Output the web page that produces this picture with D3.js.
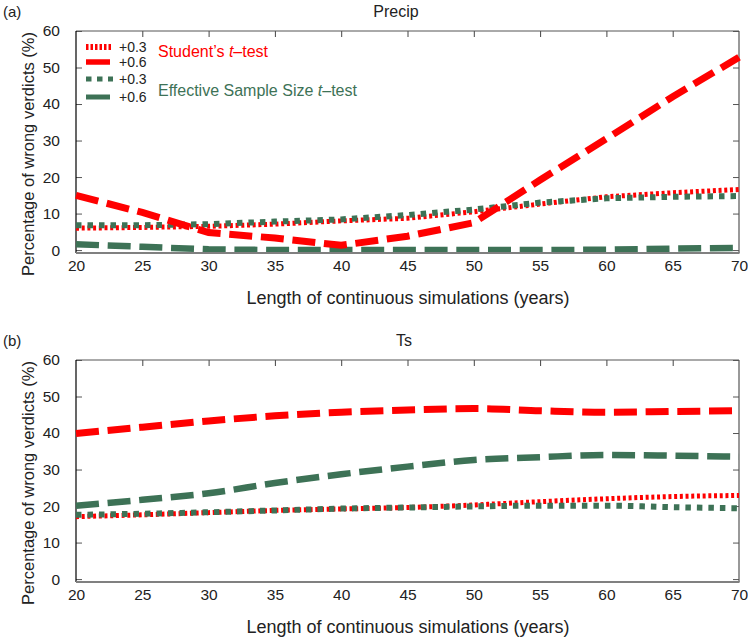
<!DOCTYPE html>
<html>
<head>
<meta charset="utf-8">
<script src="https://cdn.jsdelivr.net/npm/d3@7"></script>
<style>
body { margin: 0; background: #fff; }
text { font-family: "Liberation Sans", Arial, Helvetica, sans-serif; fill: #222; }
</style>
</head>
<body>
<svg width="748" height="637"></svg>
<script>
// years on the x axis
var years = [20, 25, 30, 35, 40, 45, 50, 55, 60, 65, 70];
var xTicks = [20, 25, 30, 35, 40, 45, 50, 55, 60, 65, 70];
var yTicks = [0, 10, 20, 30, 40, 50, 60];

// panel (a) Precip
var precipStudent03 = [6, 6.2, 6.5, 7.1, 8, 8.7, 10.5, 12.6, 14.6, 15.7, 16.6];
var precipStudent06 = [15, 10.3, 4.8, 3.3, 1.3, 3.8, 7.5, 19.2, 30.5, 42, 52.8];
var precipEss03 = [6.8, 6.8, 7.1, 7.8, 8.4, 9.6, 11.1, 13, 14.2, 14.6, 14.8];
var precipEss06 = [1.6, 0.9, 0.2, 0, 0, 0, 0, 0, 0.1, 0.4, 0.6];

// panel (b) Ts
var tsStudent03 = [17.1, 17.6, 18.2, 18.8, 19.2, 19.6, 20.3, 21.2, 22, 22.6, 22.9];
var tsStudent06 = [39.9, 41.6, 43.3, 44.7, 45.7, 46.3, 46.7, 46.1, 45.7, 45.9, 46.1];
var tsEss03 = [17.6, 17.9, 18.3, 18.8, 19.3, 19.6, 19.9, 20.1, 20.1, 19.7, 19.4];
var tsEss06 = [20.1, 21.7, 23.5, 26.3, 28.7, 30.8, 32.6, 33.4, 34, 33.8, 33.5];

var red = '#ff0000';
var green = '#3d7256';

var styles = {
    s03: {color: red, width: 5, dash: '3,2.7'},
    s06: {color: red, width: 7, dash: '23,8.7'},
    e03: {color: green, width: 6, dash: '5.5,6'},
    e06: {color: green, width: 6.5, dash: '23,8.7'}
};

var svg = d3.select('svg');
var left = 76, right = 739;

var xScale = d3.scaleLinear().domain([20, 70]).range([left, right]);

function drawPanel(cfg) {
    var yScale = d3.scaleLinear().domain([-0.8, 60]).range([cfg.bottom, cfg.top]);
    var g = svg.append('g');

    // tick marks, pointing inward
    var yAxisL = d3.axisLeft(yScale).tickValues(yTicks).tickSizeInner(-6).tickSizeOuter(0).tickPadding(16);
    g.append('g').attr('transform', 'translate(' + left + ',0)').call(yAxisL)
        .call(a => a.select('.domain').remove())
        .call(a => a.selectAll('line').attr('stroke', '#555'))
        .call(a => a.selectAll('text').style('font-size', '15.5px').attr('fill', '#222'));

    var yAxisR = d3.axisRight(yScale).tickValues(yTicks).tickSizeInner(-6).tickSizeOuter(0).tickFormat('');
    g.append('g').attr('transform', 'translate(' + right + ',0)').call(yAxisR)
        .call(a => a.select('.domain').remove())
        .call(a => a.selectAll('line').attr('stroke', '#555'));

    var xAxisT = d3.axisTop(xScale).tickValues(xTicks.slice(1, -1)).tickSizeInner(-6).tickSizeOuter(0).tickFormat('');
    g.append('g').attr('transform', 'translate(0,' + cfg.top + ')').call(xAxisT)
        .call(a => a.select('.domain').remove())
        .call(a => a.selectAll('line').attr('stroke', '#444'));

    var xAxisB = d3.axisBottom(xScale).tickValues(xTicks).tickSize(0).tickPadding(7);
    g.append('g').attr('transform', 'translate(0,' + cfg.bottom + ')').call(xAxisB)
        .call(a => a.select('.domain').remove())
        .call(a => a.selectAll('text').style('font-size', '15.5px').attr('fill', '#222'));

    // frame
    g.append('line').attr('x1', left).attr('x2', right).attr('y1', cfg.top).attr('y2', cfg.top)
        .attr('stroke', '#555').attr('stroke-width', 1);
    g.append('line').attr('x1', right).attr('x2', right).attr('y1', cfg.top).attr('y2', cfg.bottom)
        .attr('stroke', '#555').attr('stroke-width', 1.2);
    g.append('line').attr('x1', left).attr('x2', left).attr('y1', cfg.top).attr('y2', cfg.bottom)
        .attr('stroke', '#000').attr('stroke-width', 1.2);

    // series
    var line = d3.line()
        .x((d, i) => xScale(years[i]))
        .y(d => yScale(d))
        .curve(cfg.curve);

    cfg.series.forEach(function(s) {
        var st = styles[s.style];
        g.append('path')
            .attr('d', line(s.values))
            .attr('fill', 'none')
            .attr('stroke', st.color)
            .attr('stroke-width', st.width)
            .attr('stroke-dasharray', st.dash);
    });

    g.append('line').attr('x1', left).attr('x2', right + 0.5).attr('y1', cfg.bottom).attr('y2', cfg.bottom)
        .attr('stroke', '#808080').attr('stroke-width', 2);

    // texts
    g.append('text').attr('x', 3).attr('y', cfg.top - 14).text(cfg.tag).style('font-size', '15px');
    g.append('text').attr('x', cfg.titleX).attr('y', cfg.top - 14).attr('text-anchor', 'middle')
        .text(cfg.title).style('font-size', '16px');
    g.append('text').attr('x', (left + right) / 2 + 0.5).attr('y', cfg.bottom + 51).attr('text-anchor', 'middle')
        .text('Length of continuous simulations (years)').style('font-size', '18px');
    g.append('text')
        .attr('transform', 'translate(34,' + ((cfg.top + cfg.bottom) / 2 + 12) + ') rotate(-90)')
        .attr('text-anchor', 'middle')
        .text('Percentage of wrong verdicts (%)').style('font-size', '16.5px');
}

drawPanel({
    tag: '(a)', title: 'Precip', titleX: 396, top: 31, bottom: 253, curve: d3.curveLinear,
    series: [
        {values: precipEss06, style: 'e06'},
        {values: precipStudent03, style: 's03'},
        {values: precipEss03, style: 'e03'},
        {values: precipStudent06, style: 's06'}
    ]
});

drawPanel({
    tag: '(b)', title: 'Ts', titleX: 404, top: 360, bottom: 582, curve: d3.curveMonotoneX,
    series: [
        {values: tsEss06, style: 'e06'},
        {values: tsStudent03, style: 's03'},
        {values: tsEss03, style: 'e03'},
        {values: tsStudent06, style: 's06'}
    ]
});

// legend in panel (a)
var legendRows = [
    {label: '+0.3', color: red, width: 6, dash: '2.5,2', len: 27},
    {label: '+0.6', color: red, width: 5.5, dash: null, len: 24},
    {label: '+0.3', color: green, width: 5, dash: '5.5,5.5', len: 27},
    {label: '+0.6', color: green, width: 5, dash: null, len: 24}
];
var legendY = [47, 62, 79, 97];
var legend = svg.append('g');
legendRows.forEach(function(r, i) {
    legend.append('line').attr('x1', 86).attr('x2', 86 + r.len)
        .attr('y1', legendY[i]).attr('y2', legendY[i])
        .attr('stroke', r.color).attr('stroke-width', r.width)
        .attr('stroke-dasharray', r.dash);
    legend.append('text').attr('x', 119).attr('y', legendY[i] + 5)
        .text(r.label).style('font-size', '14px');
});
var t1 = legend.append('text').attr('x', 158).attr('y', 57).style('font-size', '16px').style('fill', red);
t1.append('tspan').text('Student\u2019s ').style('fill', red);
t1.append('tspan').text('t').style('font-style', 'italic').style('fill', red);
t1.append('tspan').text('\u2013test').style('fill', red);
var t2 = legend.append('text').attr('x', 158).attr('y', 96).style('font-size', '16px').style('fill', green);
t2.append('tspan').text('Effective Sample Size ').style('fill', green);
t2.append('tspan').text('t').style('font-style', 'italic').style('fill', green);
t2.append('tspan').text('\u2013test').style('fill', green);
</script>
</body>
</html>
